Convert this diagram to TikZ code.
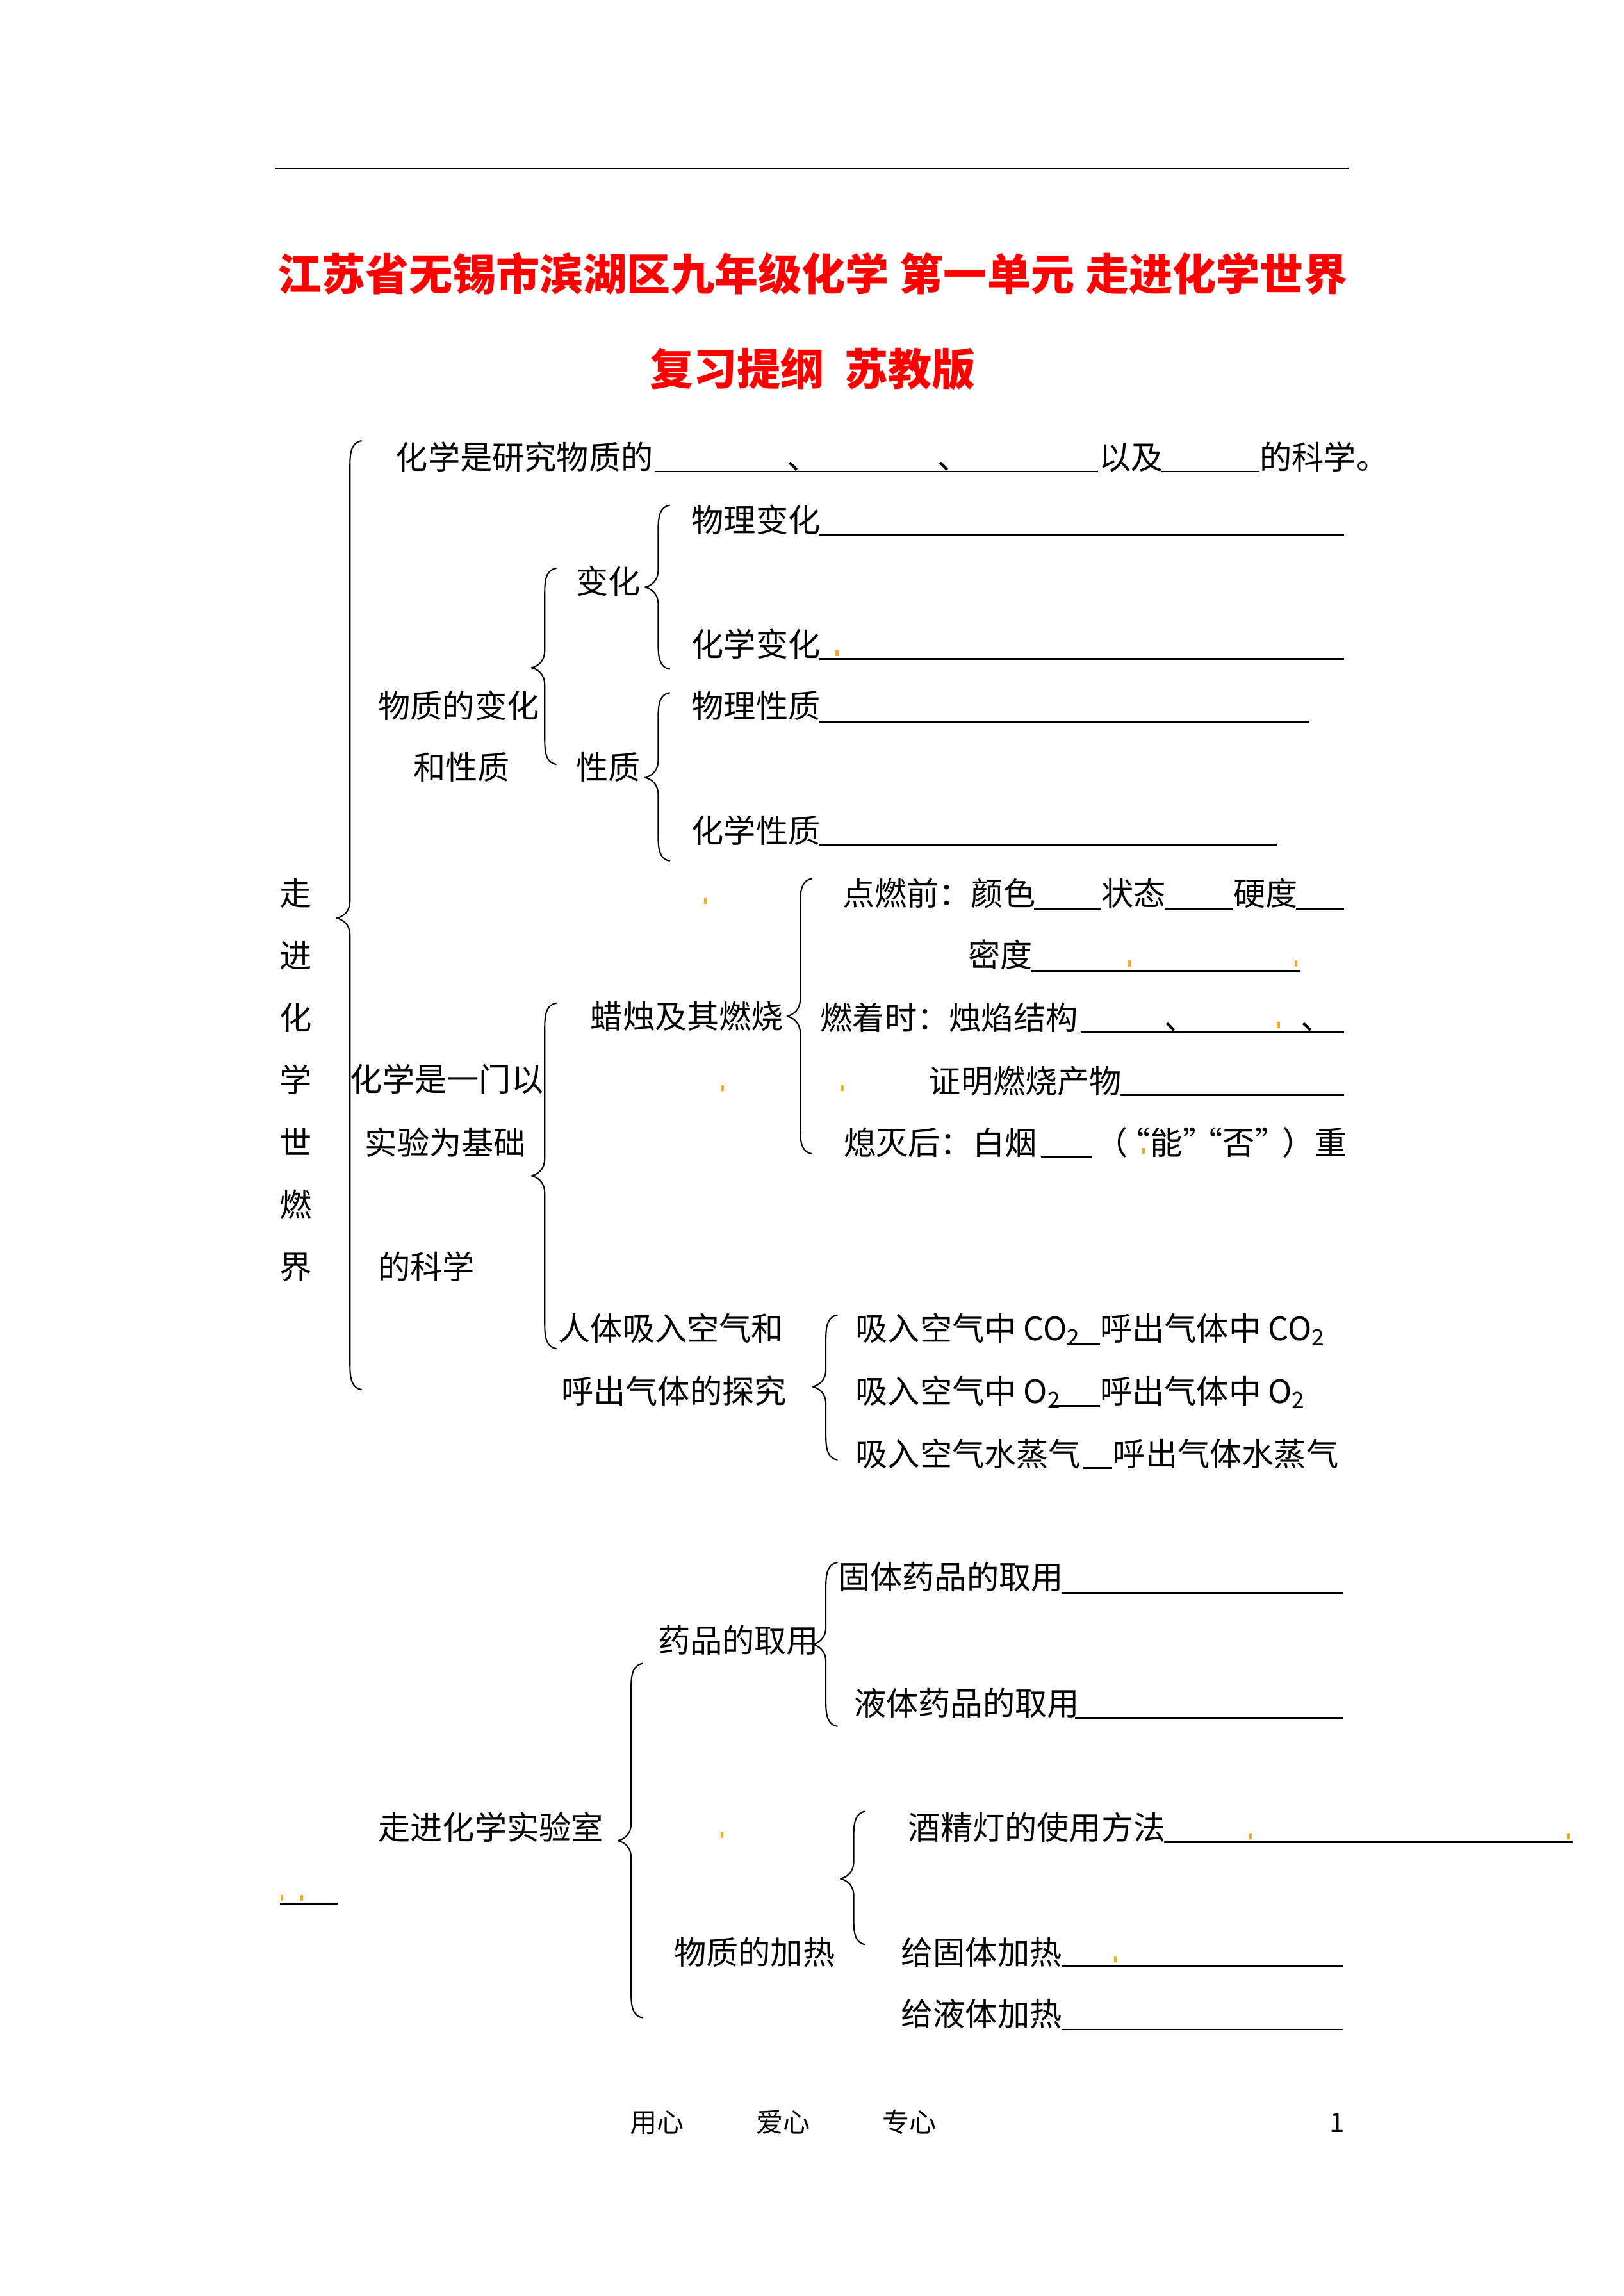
\documentclass[tikz,border=0pt]{standalone}
\usepackage{fontspec}
\setmainfont{Noto Sans CJK SC}
\usetikzlibrary{positioning}
\definecolor{titlered}{RGB}{255,0,0}
\definecolor{markorange}{RGB}{245,170,30}

\newcommand{\bodyfont}{\fontsize{14.3pt}{17pt}\selectfont}
\newcommand{\titlefont}{\fontsize{19.4pt}{23pt}\selectfont\bfseries}
\newcommand{\footfont}{\fontsize{12pt}{14pt}\selectfont}

% left curly brace: stem x, top y, tip y, bottom y
\newcommand{\curlybrace}[4]{%
  \draw[brace] (#1+8,#2) .. controls (#1+2,#2+1) and (#1,#2+6) .. (#1,#2+16)
    -- (#1,#3-12) .. controls (#1,#3-4) and (#1-5,#3-1) .. (#1-9,#3)
    .. controls (#1-5,#3+1) and (#1,#3+4) .. (#1,#3+12)
    -- (#1,#4-16) .. controls (#1,#4-6) and (#1+2,#4-1) .. (#1+8,#4);}

\begin{document}
\begin{tikzpicture}[x=0.02287cm, y=-0.02287cm,
  txt/.style={anchor=west, inner sep=0pt, font=\bodyfont, text height=12.6pt, text depth=1.7pt},
  vch/.style={txt, anchor=center},
  ttl/.style={anchor=center, inner sep=0pt, font=\titlefont, text=titlered, text height=17pt, text depth=2.4pt},
  ft/.style={anchor=center, inner sep=0pt, font=\footfont, text height=10.6pt, text depth=1.4pt},
  uline/.style={line width=0.8pt},
  brace/.style={line width=0.6pt, line join=round}]

\useasboundingbox (0,0) rectangle (1109,1568);

%---------------------------------------
% Header rule and title
%---------------------------------------
\draw[line width=0.6pt] (188,115) -- (921,115);
\node[ttl] (title1) at (555,187) {江苏省无锡市滨湖区九年级化学\hspace{0.25em}第一单元\hspace{0.25em}走进化学世界};
\node[ttl] (title2) at (555,252) {复习提纲\hspace{0.47em}苏教版};

%---------------------------------------
% Braces
%---------------------------------------
\curlybrace{239}{301}{627}{949}   % 走进化学世界
\curlybrace{372}{388}{456}{522}   % 物质的变化和性质
\curlybrace{449.5}{345}{401}{457} % 变化
\curlybrace{449.5}{473}{531}{588} % 性质
\curlybrace{546.5}{600}{694}{788} % 蜡烛
\curlybrace{372}{685}{803}{921}   % 实验为基础
\curlybrace{564}{898}{947}{997}   % 呼吸
\curlybrace{564}{1067}{1123}{1179} % 药品
\curlybrace{431}{1136}{1257}{1378} % 实验室
\curlybrace{583}{1237}{1283}{1328} % 加热

%---------------------------------------
% Left column
%---------------------------------------
\foreach \c [count=\i from 0] in {走,进,化,学,世,燃,界}
  \node[vch] (side\i) at (202,610+42.5*\i) {\c};

%---------------------------------------
% Part 1: 物质的变化和性质
%---------------------------------------
\node[txt] (def) at (270,312) {化学是研究物质的};
\node[txt] (dun1) at (537,312) {、};
\node[txt] (dun2) at (640,312) {、};
\node[txt] (yiji) at (750,312) {以及};
\node[txt] (kexue) at (860,312) {的科学。};

\node[txt] (bhxz1) at (258,482) {物质的变化};
\node[txt] (bhxz2) at (282,524) {和性质};
\node[txt] (bh) at (393,397) {变化};
\node[txt] (xz) at (393,524) {性质};
\node[txt] (wlbh) at (472,355) {物理变化};
\node[txt] (hxbh) at (472,440) {化学变化};
\node[txt] (wlxz) at (472,482) {物理性质};
\node[txt] (hxxz) at (472,567) {化学性质};

%---------------------------------------
% Part 2: 实验为基础的科学
%---------------------------------------
\node[txt] (sy1) at (239,737) {化学是一门以};
\node[txt] (sy2) at (249,780) {实验为基础};
\node[txt] (sy3) at (258,865) {的科学};

\node[txt] (lazhu) at (403,694) {蜡烛及其燃烧};
\node[txt] (dr1) at (575,610) {点燃前：颜色};
\node[txt] (dr2) at (752,610) {状态};
\node[txt] (dr3) at (842,610) {硬度};
\node[txt] (mid) at (661,652) {密度};
\node[txt] (rz) at (560,695) {燃着时：烛焰结构};
\node[txt] (rzd1) at (795,695) {、};
\node[txt] (rzd2) at (888,695) {、};
\node[txt] (zm) at (634,738) {证明燃烧产物};
\node[txt] (xm1) at (576,780) {熄灭后：白烟};
\node[txt] (xm2) at (748,780) {（\kern-0.3em“能”\kern-0.75em“否”\kern-0.15em）重};

\node[txt] (hx1) at (381,907) {人体吸入空气和};
\node[txt] (hx2) at (383,950) {呼出气体的探究};
\node[txt] (co2a) at (584,907) {吸入空气中 CO\textsubscript{2}};
\node[txt] (co2b) at (751,907) {呼出气体中 CO\textsubscript{2}};
\node[txt] (o2a) at (584,950) {吸入空气中 O\textsubscript{2}};
\node[txt] (o2b) at (751,950) {呼出气体中 O\textsubscript{2}};
\node[txt] (h2oa) at (584,993) {吸入空气水蒸气};
\node[txt] (h2ob) at (760,993) {呼出气体水蒸气};

%---------------------------------------
% Part 3: 走进化学实验室
%---------------------------------------
\node[txt] (lab) at (258,1248) {走进化学实验室};
\node[txt] (yp) at (449,1120) {药品的取用};
\node[txt] (gt) at (572,1077) {固体药品的取用};
\node[txt] (yt) at (583,1163) {液体药品的取用};
\node[txt] (jr) at (460,1333) {物质的加热};
\node[txt] (jjd) at (620,1248) {酒精灯的使用方法};
\node[txt] (ggt) at (615,1333) {给固体加热};
\node[txt] (gyt) at (615,1375) {给液体加热};

%---------------------------------------
% Blanks
%---------------------------------------
\foreach \yy/\xa/\xb in {322/447/750, 322/793/860,
    365/559/918, 450/559/918, 493/559/894, 577/559/872,
    620.5/706/752, 620.5/796/842, 620.5/885/918, 663/704/888,
    705/738/918, 748/765/918, 790.5/711/746,
    918/728.5/751, 960/717/751, 1002.5/740/759.5,
    1088/725/917, 1173/734/917, 1258/795/1074, 1300/191/230.5,
    1343/725/917, 1386/725/917}
  \draw[uline] (\xa,\yy) -- (\xb,\yy);

% stray marks
\foreach \mx/\my in {571.5/446, 482/615.5, 771/658, 885/658, 873/700,
    493.5/743, 575/743, 781/786, 493/1253, 854/1254, 1071/1254,
    192.5/1296, 206/1296, 762/1338}
  \fill[markorange] (\mx-1,\my-2) rectangle (\mx+1,\my+2);

%---------------------------------------
% Footer
%---------------------------------------
\node[ft] (f1) at (448.5,1449) {用心};
\node[ft] (f2) at (535,1449) {爱心};
\node[ft] (f3) at (621,1449) {专心};
\node[ft] (page) at (913,1449) {1};

\end{tikzpicture}
\end{document}
